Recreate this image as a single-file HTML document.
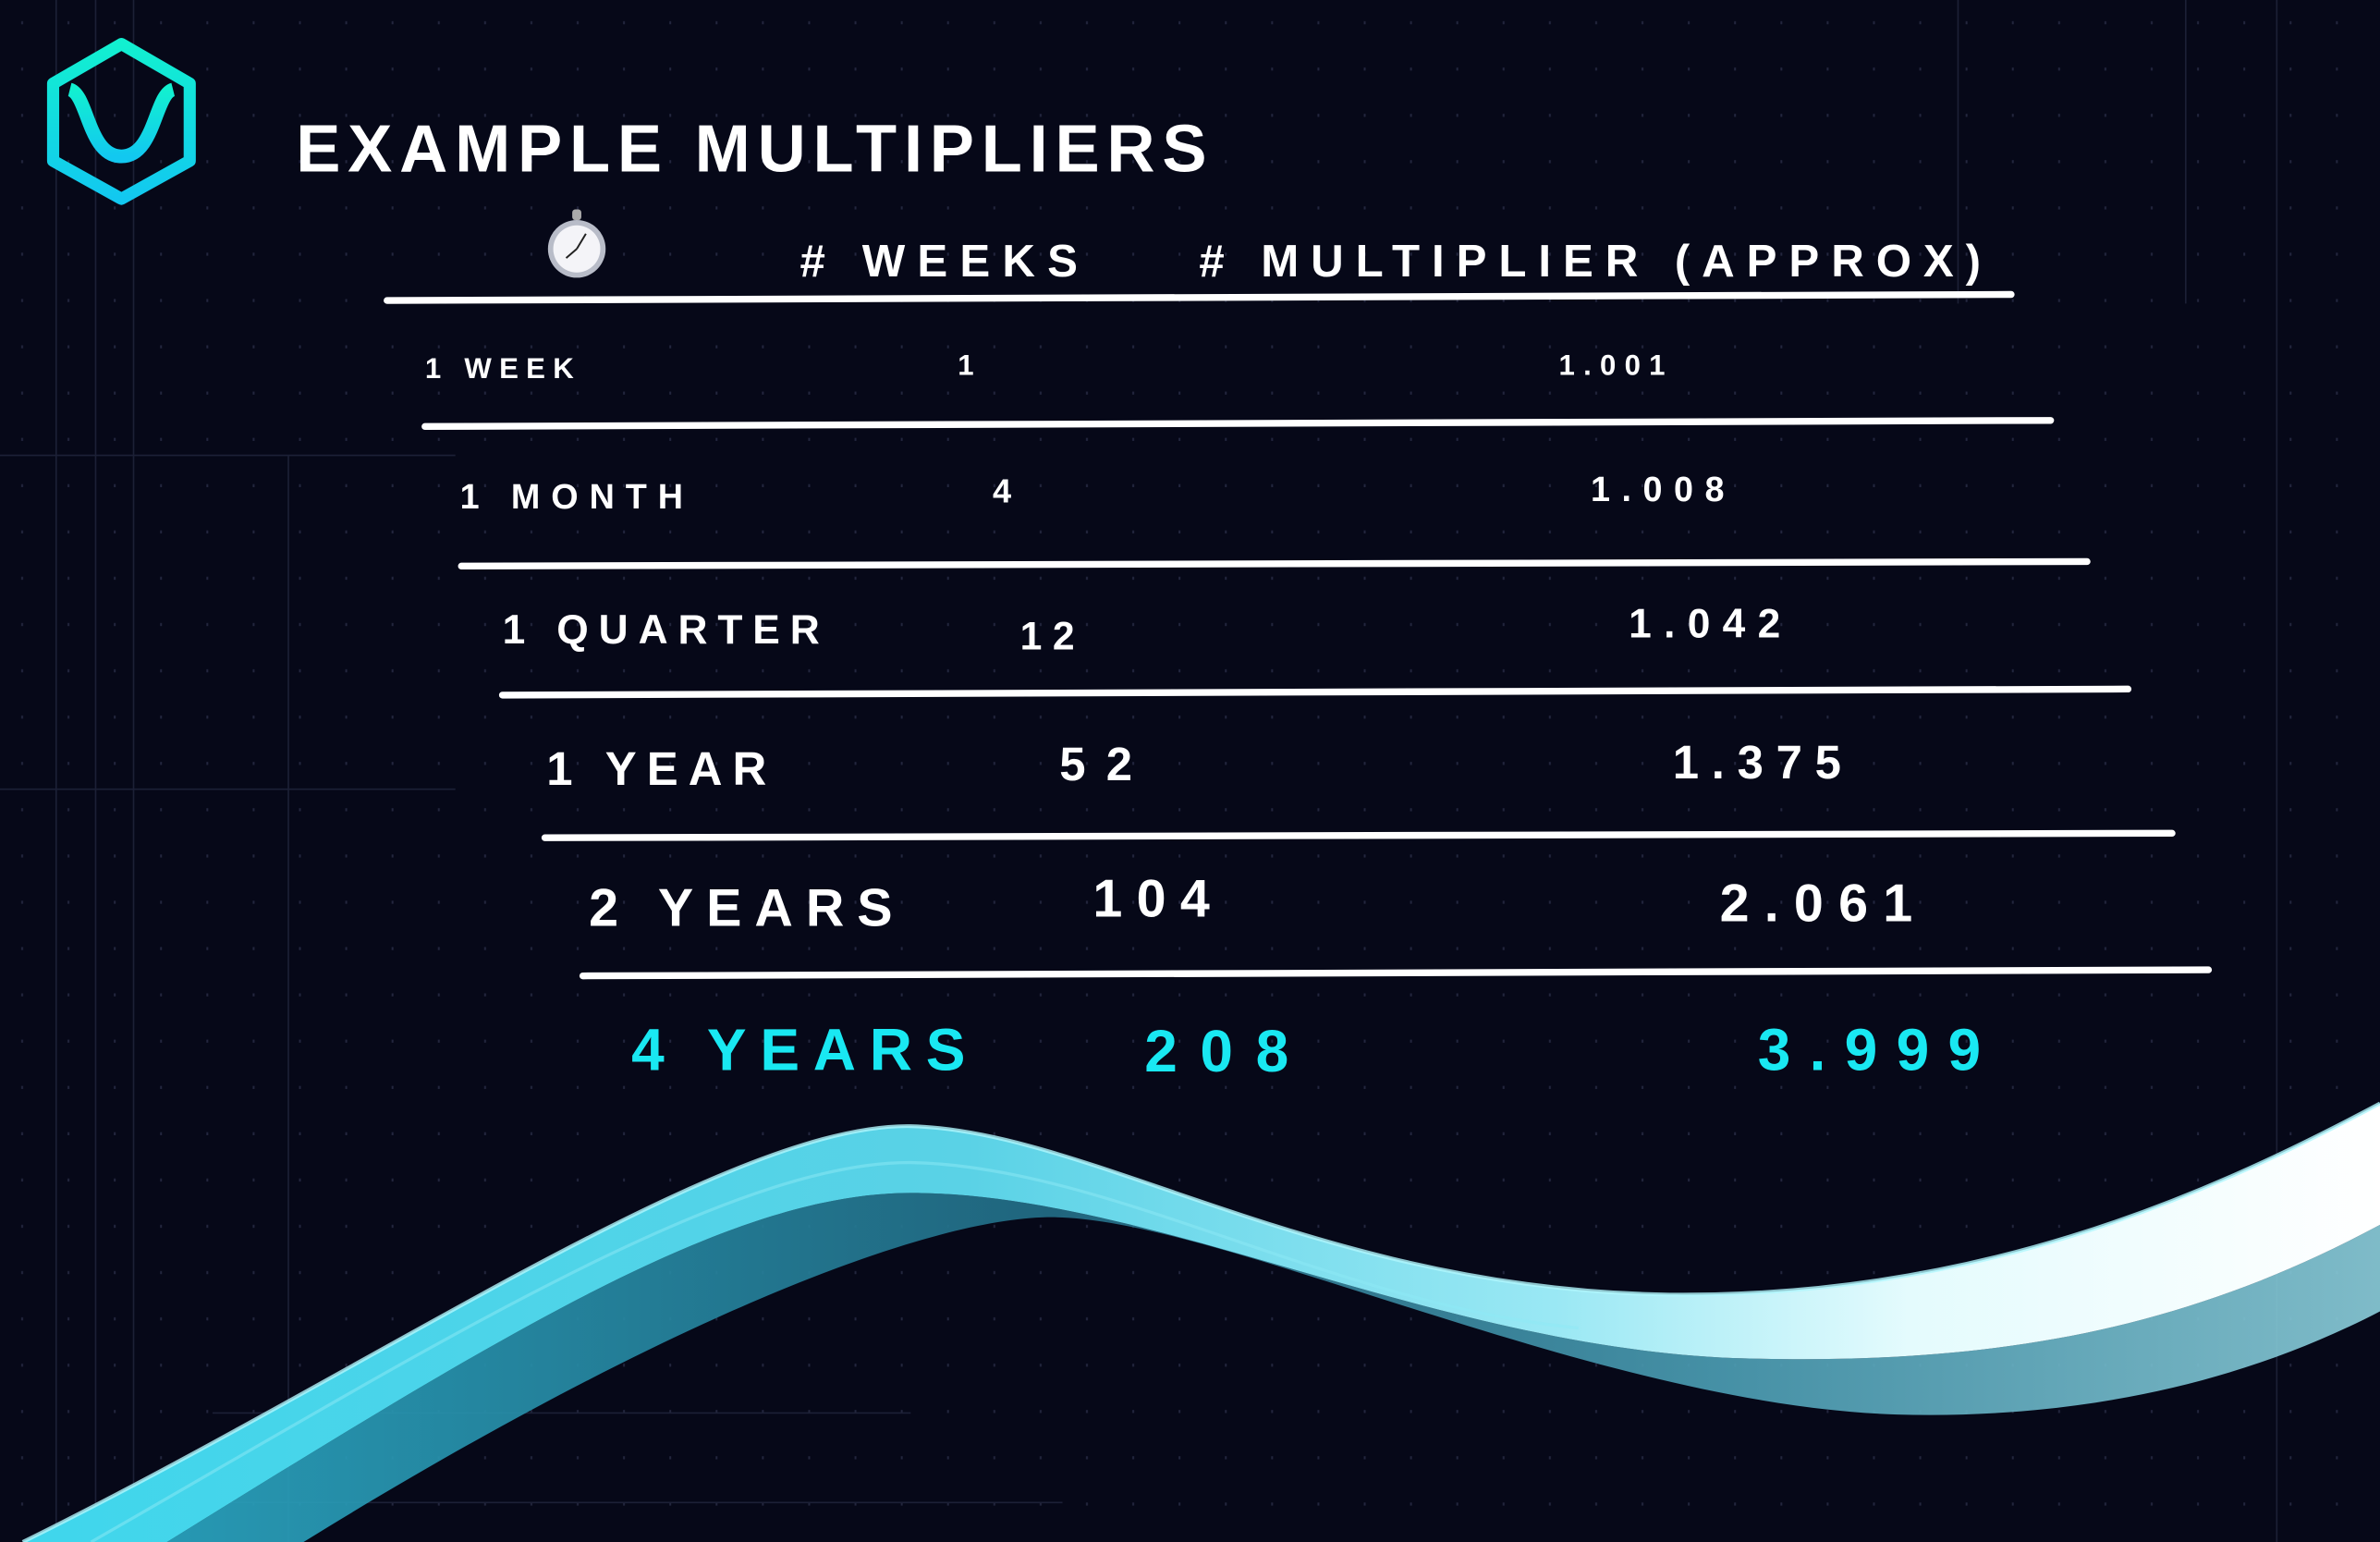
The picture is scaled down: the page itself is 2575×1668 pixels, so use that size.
<!DOCTYPE html>
<html><head><meta charset="utf-8"><style>
html,body{margin:0;padding:0;background:#060818;}
svg{display:block}
</style></head><body>
<svg width="2575" height="1668" viewBox="0 0 1568 1016" preserveAspectRatio="none" xmlns="http://www.w3.org/2000/svg" font-family="'Liberation Sans', sans-serif" font-weight="bold">
<defs>
<pattern id="dots" width="30.5" height="30.5" patternUnits="userSpaceOnUse"><rect x="14" y="14" width="1.2" height="2" fill="#2a2e48"/></pattern>
<linearGradient id="logoG" x1="0" y1="0" x2="0" y2="1"><stop offset="0" stop-color="#12f0d0"/><stop offset="1" stop-color="#12c8f0"/></linearGradient>
<linearGradient id="waveG" x1="0" y1="0" x2="1" y2="0"><stop offset="0" stop-color="#3fd6ec"/><stop offset="0.4" stop-color="#5ad2e6"/><stop offset="0.65" stop-color="#9ae8f4"/><stop offset="0.8" stop-color="#e4fbfd"/><stop offset="1" stop-color="#ffffff"/></linearGradient>
<linearGradient id="waveG2" x1="0" y1="0" x2="1" y2="0"><stop offset="0" stop-color="#2aa8c4"/><stop offset="0.4" stop-color="#236f88"/><stop offset="0.7" stop-color="#4c9fb5"/><stop offset="1" stop-color="#8ccfdc"/></linearGradient>
</defs>
<rect width="1568" height="1016" fill="#060818"/>
<rect width="1568" height="1016" fill="url(#dots)" opacity="0.8"/>
<g stroke="#1c2036" stroke-width="1">
<line x1="37" y1="0" x2="37" y2="1016"/><line x1="63" y1="0" x2="63" y2="1016"/><line x1="88" y1="0" x2="88" y2="1016"/><line x1="190" y1="300" x2="190" y2="1016"/>
<line x1="1290" y1="0" x2="1290" y2="200"/><line x1="1440" y1="0" x2="1440" y2="200"/><line x1="1500" y1="0" x2="1500" y2="1016"/>
<line x1="0" y1="300" x2="300" y2="300"/><line x1="0" y1="520" x2="300" y2="520"/><line x1="140" y1="931" x2="600" y2="931"/><line x1="140" y1="990" x2="700" y2="990"/>
</g>
<g fill="none" stroke="url(#logoG)" stroke-width="8" stroke-linejoin="round">
<path d="M80 29 L125 55 L125 106 L80 131 L35 106 L35 55 Z"/>
<path d="M46 59 C58 62 58 103 80 103 C102 103 102 62 114 59" stroke-width="9"/>
</g>
<text x="195" y="113" font-size="44" fill="#fff" textLength="600" lengthAdjust="spacing">EXAMPLE MULTIPLIERS</text>
<g>
<circle cx="380" cy="164" r="19" fill="#b8bcc8"/><circle cx="380" cy="164" r="15.5" fill="#f4f4f8"/>
<rect x="377" y="138" width="6" height="7" rx="2" fill="#aaa"/>
<line x1="380" y1="164" x2="373" y2="170" stroke="#222" stroke-width="1.2"/><line x1="380" y1="164" x2="386" y2="154" stroke="#222" stroke-width="1.2"/>
</g>
<text x="527" y="182" font-size="30" fill="#fff" textLength="183" lengthAdjust="spacing"># WEEKS</text>
<text x="790" y="182" font-size="30" fill="#fff" textLength="515" lengthAdjust="spacing"># MULTIPLIER (APPROX)</text>
<g stroke="#fff" stroke-width="4.5" stroke-linecap="round">
<line x1="255" y1="198" x2="1325" y2="194"/>
<line x1="280" y1="281" x2="1351" y2="277"/>
<line x1="304" y1="373" x2="1375" y2="370"/>
<line x1="331" y1="458" x2="1402" y2="454"/>
<line x1="359" y1="552" x2="1431" y2="549"/>
<line x1="384" y1="643" x2="1455" y2="639"/>
</g>
<g fill="#fff">
<text x="280" y="249" font-size="19" textLength="98" lengthAdjust="spacing">1 WEEK</text>
<text x="631" y="247" font-size="19">1</text>
<text x="1027" y="247" font-size="19" textLength="70" lengthAdjust="spacing">1.001</text>
<text x="303" y="335" font-size="23" textLength="147" lengthAdjust="spacing">1 MONTH</text>
<text x="654" y="331" font-size="22">4</text>
<text x="1048" y="330" font-size="23" textLength="88" lengthAdjust="spacing">1.008</text>
<text x="331" y="424" font-size="27" textLength="209" lengthAdjust="spacing">1 QUARTER</text>
<text x="672" y="428" font-size="26" textLength="36" lengthAdjust="spacing">12</text>
<text x="1073" y="420" font-size="27" textLength="100" lengthAdjust="spacing">1.042</text>
<text x="360" y="517" font-size="31" textLength="145" lengthAdjust="spacing">1 YEAR</text>
<text x="698" y="514" font-size="31" textLength="48" lengthAdjust="spacing">52</text>
<text x="1102" y="513" font-size="31" textLength="111" lengthAdjust="spacing">1.375</text>
<text x="388" y="610" font-size="35" textLength="200" lengthAdjust="spacing">2 YEARS</text>
<text x="720" y="604" font-size="35" textLength="77" lengthAdjust="spacing">104</text>
<text x="1133" y="607" font-size="35" textLength="127" lengthAdjust="spacing">2.061</text>
</g>
<g fill="#19e8f2">
<text x="416" y="705" font-size="39" textLength="220" lengthAdjust="spacing">4 YEARS</text>
<text x="754" y="706" font-size="39" textLength="95" lengthAdjust="spacing">208</text>
<text x="1158" y="705" font-size="39" textLength="147" lengthAdjust="spacing">3.999</text>
</g>
<g>
<path d="M110 1016 C330 880 480 786 600 786 C760 786 950 890 1150 895 C1330 900 1450 870 1568 807 L1568 864 C1470 915 1360 935 1250 932 C1050 926 800 800 690 802 C600 804 420 880 200 1016 Z" fill="url(#waveG2)" opacity="0.9"/>
<path d="M15 1016 C250 900 480 740 600 742 C720 745 870 850 1100 853 C1300 855 1450 790 1568 727 L1568 807 C1450 870 1330 900 1150 895 C950 890 760 786 600 786 C480 786 330 880 110 1016 Z" fill="url(#waveG)"/>
<path d="M15 1016 C250 900 480 740 600 742 C720 745 870 850 1100 853 C1300 855 1450 790 1568 727" fill="none" stroke="#b0f6fc" stroke-width="2.5" opacity="0.8"/>
<path d="M60 1016 C280 890 480 765 600 766 C730 768 880 860 1040 875" fill="none" stroke="#8eeaf6" stroke-width="2" opacity="0.5"/>
</g>
</svg>
</body></html>
